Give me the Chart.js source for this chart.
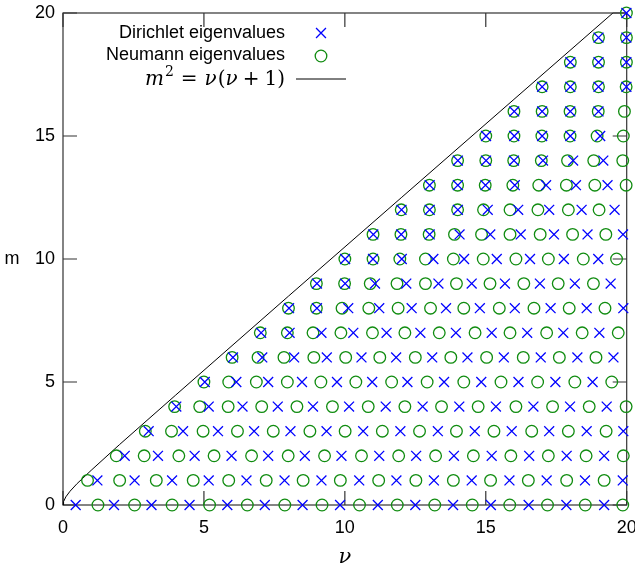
<!DOCTYPE html>
<html>
<head>
<meta charset="utf-8">
<script src="https://cdn.jsdelivr.net/npm/chart.js@4.4.1/dist/chart.umd.min.js"></script>
<style>
  html, body { margin: 0; padding: 0; background: #fff; }
  #wrap { width: 635px; height: 573px; position: relative; }
</style>
</head>
<body>
<div id="wrap"><canvas id="chart" width="635" height="573"></canvas></div>
<script>
/* Eigenvalues nu for each azimuthal order m (row index = m) */
const dirichletNu = [
  [0.45, 1.81, 3.14, 4.49, 5.83, 7.16, 8.50, 9.83, 11.17, 12.50, 13.84, 15.18, 16.52, 17.86, 19.20],
  [1.22, 2.54, 3.87, 5.17, 6.51, 7.86, 9.17, 10.51, 11.83, 13.16, 14.50, 15.84, 17.16, 18.52, 19.86],
  [2.19, 3.37, 4.67, 5.98, 7.28, 8.58, 9.88, 11.22, 12.53, 13.87, 15.21, 16.54, 17.87, 19.20],
  [3.04, 4.26, 5.50, 6.78, 8.07, 9.35, 10.65, 11.97, 13.30, 14.61, 15.92, 17.25, 18.58, 19.88],
  [4.02, 5.17, 6.37, 7.62, 8.87, 10.15, 11.45, 12.76, 14.06, 15.36, 16.69, 17.99, 19.29],
  [5.03, 6.15, 7.28, 8.48, 9.72, 10.97, 12.22, 13.52, 14.84, 16.16, 17.47, 18.79],
  [6.03, 7.07, 8.20, 9.36, 10.59, 11.82, 13.10, 14.35, 15.64, 16.95, 18.25, 19.53],
  [7.03, 8.04, 9.17, 10.30, 11.48, 12.68, 13.94, 15.21, 16.47, 17.75, 19.03],
  [8.02, 9.01, 10.12, 11.22, 12.37, 13.59, 14.79, 16.03, 17.30, 18.58, 19.88],
  [9.01, 10.01, 11.07, 12.18, 13.32, 14.50, 15.68, 16.92, 18.16, 19.43],
  [10.01, 11.0, 12.02, 13.14, 14.23, 15.39, 16.57, 17.77, 18.99],
  [11.01, 12.0, 13.01, 14.07, 15.16, 16.24, 17.42, 18.61, 19.87],
  [12.01, 13.01, 14.01, 15.07, 16.15, 17.25, 18.40, 19.57],
  [13.01, 14.01, 14.99, 16.03, 17.14, 18.20, 19.32],
  [14.01, 15.01, 16.0, 17.03, 18.10, 19.17],
  [15.01, 16.01, 17.0, 18.0, 19.06],
  [16.01, 17.0, 18.0, 19.0],
  [17.0, 18.0, 19.0, 19.99],
  [18.0, 19.0, 19.99],
  [19.0, 19.99],
  [19.99]
];

const neumannNu = [
  [1.24, 2.54, 3.87, 5.20, 6.54, 7.87, 9.19, 10.52, 11.86, 13.19, 14.52, 15.85, 17.19, 18.53, 19.86],
  [0.87, 2.01, 3.31, 4.62, 5.88, 7.21, 8.52, 9.84, 11.20, 12.52, 13.85, 15.17, 16.51, 17.87, 19.20],
  [1.89, 2.88, 4.11, 5.36, 6.69, 7.99, 9.28, 10.59, 11.91, 13.22, 14.56, 15.89, 17.22, 18.56, 19.88],
  [2.92, 3.85, 4.97, 6.19, 7.46, 8.76, 10.01, 11.33, 12.65, 13.96, 15.29, 16.63, 17.93, 19.27],
  [3.96, 4.85, 5.86, 7.05, 8.30, 9.56, 10.83, 12.13, 13.43, 14.73, 16.07, 17.37, 18.67, 19.98],
  [5.0, 5.88, 6.86, 7.96, 9.15, 10.39, 11.66, 12.92, 14.22, 15.54, 16.84, 18.16, 19.47],
  [6.0, 6.92, 7.84, 8.90, 10.03, 11.24, 12.50, 13.76, 15.03, 16.33, 17.61, 18.91],
  [7.0, 7.96, 8.87, 9.86, 10.98, 12.13, 13.35, 14.62, 15.86, 17.16, 18.42, 19.70],
  [8.0, 8.99, 9.90, 10.85, 11.89, 13.04, 14.22, 15.48, 16.71, 17.96, 19.23],
  [8.99, 9.99, 10.90, 11.85, 12.86, 13.96, 15.15, 16.35, 17.57, 18.82],
  [10.0, 11.0, 11.95, 12.86, 13.85, 14.91, 16.07, 17.22, 18.46, 19.64],
  [11.0, 11.99, 12.99, 13.89, 14.85, 15.86, 16.93, 18.08, 19.26],
  [12.0, 13.0, 14.0, 14.92, 15.86, 16.85, 17.93, 19.02],
  [13.0, 14.0, 14.98, 15.96, 16.88, 17.86, 18.87, 19.98],
  [14.0, 15.0, 15.99, 16.97, 17.90, 18.83, 19.86],
  [15.0, 16.0, 16.99, 17.99, 18.95, 19.88],
  [16.0, 17.0, 17.99, 18.99, 19.92],
  [17.0, 18.0, 19.0, 19.98],
  [18.0, 19.0, 19.99],
  [19.0, 19.99],
  [19.99]
];

// boundary curve m^2 = nu(nu+1), sampled points
const curveNu = [0, 0.02, 0.1, 0.25, 0.5, 1, 2, 4, 8, 12, 16, 19.51];
const curveM  = [0, 0.14, 0.33, 0.56, 0.87, 1.41, 2.45, 4.47, 8.49, 12.49, 16.49, 20.0];

const xTicks = [0, 5, 10, 15, 20];
const yTicks = [0, 5, 10, 15, 20];

const legendLabels = ["Dirichlet eigenvalues", "Neumann eigenvalues"];

/* ---------------------------------------------------------
   Build point lists
--------------------------------------------------------- */
const toPoints = (rows) => rows.flatMap((row, m) => row.map((nu) => ({ x: nu, y: m })));
const curvePoints = curveNu.map((nu, i) => ({ x: nu, y: curveM[i] }));

const blue = "#0000ff";
const green = "#108c10";
const TICK_LEN = 14;
const sans = '"Liberation Sans", Arial, sans-serif';
const serif = '"DejaVu Serif", serif';

const dirichletStyle = { pointStyle: "crossRot", radius: 7, borderWidth: 1.3 };
const neumannStyle = { pointStyle: "circle", radius: 5.8, borderWidth: 1.3 };

/* ---------------------------------------------------------
   Frame, inward ticks (gnuplot style), y label and key
--------------------------------------------------------- */
const framePlugin = {
  id: "frame",
  beforeDatasetsDraw(chart) {
    const { ctx, chartArea: a, scales } = chart;
    ctx.save();
    ctx.strokeStyle = "#333";
    ctx.lineWidth = 1.2;
    ctx.strokeRect(a.left, a.top, a.right - a.left, a.bottom - a.top);
    ctx.beginPath();
    xTicks.forEach((v) => {
      const px = scales.x.getPixelForValue(v);
      ctx.moveTo(px, a.bottom); ctx.lineTo(px, a.bottom - TICK_LEN);
      ctx.moveTo(px, a.top); ctx.lineTo(px, a.top + TICK_LEN);
    });
    yTicks.forEach((v) => {
      const py = scales.y.getPixelForValue(v);
      ctx.moveTo(a.left, py); ctx.lineTo(a.left + TICK_LEN, py);
      ctx.moveTo(a.right, py); ctx.lineTo(a.right - TICK_LEN, py);
    });
    ctx.stroke();

    // upright y-axis label
    ctx.fillStyle = "#000";
    ctx.font = "18px " + sans;
    ctx.textAlign = "center";
    ctx.textBaseline = "middle";
    ctx.fillText("m", 12, (a.top + a.bottom) / 2);
    ctx.restore();
  },
  afterDraw(chart) {
    const { ctx } = chart;
    const textRight = 285;
    const symX = 321;
    ctx.save();
    ctx.fillStyle = "#000";
    ctx.font = "18px " + sans;
    ctx.textAlign = "right";
    ctx.textBaseline = "middle";
    ctx.fillText(legendLabels[0], textRight, 33);
    ctx.fillText(legendLabels[1], textRight, 55);

    ctx.lineWidth = dirichletStyle.borderWidth;
    ctx.strokeStyle = blue;
    ctx.fillStyle = "rgba(0,0,0,0)";
    Chart.helpers.drawPoint(ctx, dirichletStyle, symX, 33);
    ctx.lineWidth = neumannStyle.borderWidth;
    ctx.strokeStyle = green;
    Chart.helpers.drawPoint(ctx, neumannStyle, symX, 56);

    // m^2 = nu(nu+1)
    ctx.fillStyle = "#000";
    const parts = [
      { t: "m", f: "italic 20px " + serif, dy: 0, gap: 1 },
      { t: "2", f: "14px " + serif, dy: -9, gap: 7 },
      { t: "=", f: "20px " + serif, dy: 0, gap: 7 },
      { t: "\u03bd", f: "italic 20px " + serif, dy: 0, gap: 1 },
      { t: "(", f: "20px " + serif, dy: 0, gap: 0 },
      { t: "\u03bd", f: "italic 20px " + serif, dy: 0, gap: 5 },
      { t: "+", f: "20px " + serif, dy: 0, gap: 5 },
      { t: "1", f: "20px " + serif, dy: 0, gap: 0 },
      { t: ")", f: "20px " + serif, dy: 0, gap: 0 },
    ];
    ctx.textAlign = "left";
    ctx.textBaseline = "alphabetic";
    let total = 0;
    parts.forEach((p) => { ctx.font = p.f; p.w = ctx.measureText(p.t).width; total += p.w + p.gap; });
    let x = textRight - total;
    const base = 85;
    parts.forEach((p) => {
      ctx.font = p.f;
      ctx.fillText(p.t, x, base + p.dy);
      x += p.w + p.gap;
    });

    ctx.strokeStyle = "#000";
    ctx.lineWidth = 1;
    ctx.beginPath();
    ctx.moveTo(296, 79);
    ctx.lineTo(346, 79);
    ctx.stroke();
    ctx.restore();
  },
};

/* ---------------------------------------------------------
   Chart
--------------------------------------------------------- */
new Chart(document.getElementById("chart"), {
  type: "scatter",
  data: {
    datasets: [
      {
        label: legendLabels[0],
        data: toPoints(dirichletNu),
        pointStyle: dirichletStyle.pointStyle,
        pointRadius: dirichletStyle.radius,
        pointBorderWidth: dirichletStyle.borderWidth,
        borderColor: blue,
        backgroundColor: blue,
        clip: false,
      },
      {
        label: legendLabels[1],
        data: toPoints(neumannNu),
        pointStyle: neumannStyle.pointStyle,
        pointRadius: neumannStyle.radius,
        pointBorderWidth: neumannStyle.borderWidth,
        borderColor: green,
        backgroundColor: "rgba(0,0,0,0)",
        clip: false,
      },
      {
        label: "m^2 = nu(nu+1)",
        data: curvePoints,
        showLine: true,
        pointRadius: 0,
        borderColor: "#000",
        borderWidth: 1,
        tension: 0,
      },
    ],
  },
  options: {
    responsive: false,
    animation: false,
    devicePixelRatio: 1,
    layout: { padding: { top: 13, right: 8, left: 0, bottom: 0 } },
    plugins: {
      legend: { display: false },
      tooltip: { enabled: false },
    },
    scales: {
      x: {
        type: "linear",
        min: 0,
        max: 20,
        afterBuildTicks: (s) => { s.ticks = xTicks.map((v) => ({ value: v })); },
        afterFit: (s) => { s.height = 68; s.paddingLeft = 0; s.paddingRight = 0; },
        grid: { display: false, drawTicks: false },
        border: { display: false },
        ticks: { color: "#000", padding: 12, maxRotation: 0, font: { family: sans, size: 18 } },
        title: {
          display: true,
          text: "\u03bd",
          color: "#000",
          padding: { top: 0, bottom: 3 },
          font: { family: serif, size: 21, style: "italic" },
        },
      },
      y: {
        type: "linear",
        min: 0,
        max: 20,
        afterBuildTicks: (s) => { s.ticks = yTicks.map((v) => ({ value: v })); },
        afterFit: (s) => { s.width = 63; s.paddingTop = 0; s.paddingBottom = 0; },
        grid: { display: false, drawTicks: false },
        border: { display: false },
        ticks: { color: "#000", padding: 8, font: { family: sans, size: 18 } },
      },
    },
  },
  plugins: [framePlugin],
});
</script>
</body>
</html>
